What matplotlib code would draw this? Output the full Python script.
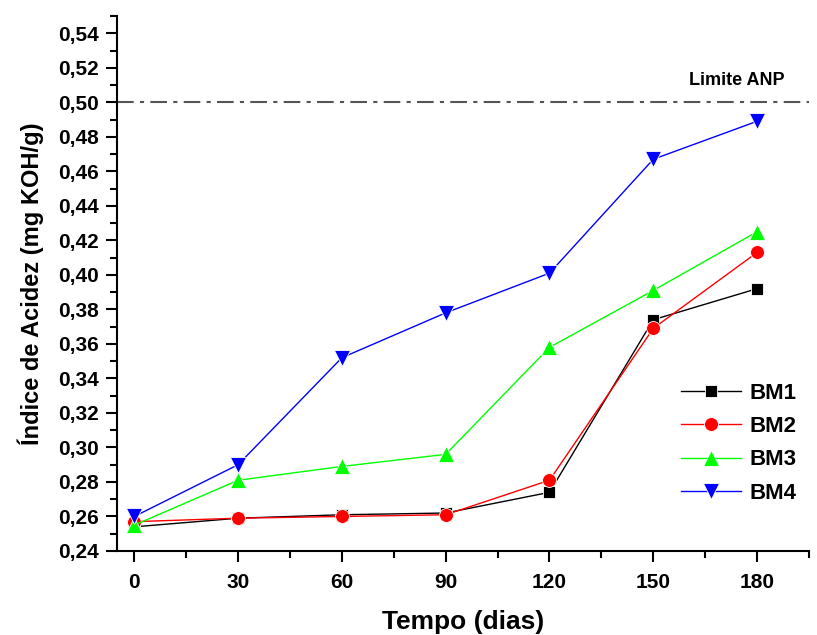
import numpy as np
import matplotlib
matplotlib.use("Agg")
from matplotlib import pyplot as plt
from matplotlib.ticker import MultipleLocator, FuncFormatter

# data
dias = [0, 30, 60, 90, 120, 150, 180]
bm1 = [0.254, 0.259, 0.261, 0.262, 0.274, 0.374, 0.392]
bm2 = [0.257, 0.259, 0.260, 0.261, 0.281, 0.369, 0.413]
bm3 = [0.255, 0.281, 0.289, 0.296, 0.358, 0.391, 0.425]
bm4 = [0.260, 0.290, 0.352, 0.378, 0.401, 0.467, 0.489]
limite_anp = 0.50

plt.rcParams['font.family'] = ['Liberation Sans', 'DejaVu Sans']
plt.rcParams['font.weight'] = 'bold'

fig = plt.figure(figsize=(8.17, 6.35), dpi=100)
ax = fig.add_axes([0.1432, 0.1323, 0.8470, 0.8425])

# markers with thin white edge, like the original
ax.plot(dias, bm1, color='black', lw=1, marker='s', ms=9, mec='white', mew=0.6, label='BM1')
ax.plot(dias, bm2, color='red', lw=1, marker='o', ms=10, mec='white', mew=0.6, label='BM2')
ax.plot(dias, bm3, color='#00ff00', lw=1, marker='^', ms=11, mec='white', mew=0.6, label='BM3')
ax.plot(dias, bm4, color='blue', lw=1, marker='v', ms=11, mec='white', mew=0.6, label='BM4')

ax.axhline(limite_anp, color='#555555', lw=1.5, dashes=(8, 3, 2, 3))
ax.text(174, 0.5127, 'Limite ANP', ha='center', va='center',
        fontsize=13, fontweight='bold')

ax.set_xlim(-5, 195)
ax.set_ylim(0.24, 0.55)
ax.xaxis.set_major_locator(MultipleLocator(30))
ax.xaxis.set_minor_locator(MultipleLocator(15))
ax.yaxis.set_major_locator(MultipleLocator(0.02))
ax.yaxis.set_minor_locator(MultipleLocator(0.01))
ax.yaxis.set_major_formatter(FuncFormatter(lambda v, p: '{:.2f}'.format(v).replace('.', ',')))

ax.spines['top'].set_visible(False)
ax.spines['right'].set_visible(False)
ax.spines['left'].set_linewidth(1.5)
ax.spines['bottom'].set_linewidth(1.5)
ax.tick_params(which='major', direction='out', length=8, width=1.5, labelsize=15)
ax.tick_params(which='minor', direction='out', length=5, width=1.5)
ax.tick_params(axis='x', which='major', pad=8)
ax.tick_params(axis='y', which='major', pad=5)
for lbl in ax.get_xticklabels() + ax.get_yticklabels():
    lbl.set_fontweight('bold')

ax.set_xlabel('Tempo (dias)', fontsize=19, fontweight='bold', labelpad=13)
ax.set_ylabel('Índice de Acidez (mg KOH/g)', fontsize=17, fontweight='bold', labelpad=10)

ax.legend(loc='upper left', bbox_to_anchor=(0.815, 0.314), frameon=False,
          fontsize=16, handlelength=2.7, handletextpad=0.4, labelspacing=0.55,
          borderpad=0, borderaxespad=0)

fig.savefig('out.png', dpi=100)
